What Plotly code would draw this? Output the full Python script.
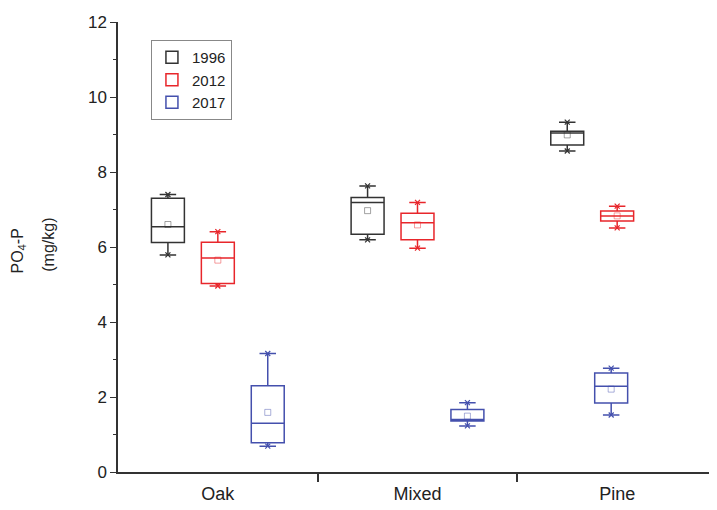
import plotly.graph_objects as go

sites = ["Oak", "Mixed", "Pine"]
years = ["1996", "2012", "2017"]

# box statistics per year, in site order (Oak, Mixed, Pine)
q1 = {"1996": [6.12, 6.34, 8.72], "2012": [5.03, 6.19, 6.69], "2017": [0.78, 1.36, 1.84]}
median = {"1996": [6.54, 7.19, 9.04], "2012": [5.71, 6.65, 6.83], "2017": [1.30, 1.40, 2.29]}
q3 = {"1996": [7.30, 7.32, 9.09], "2012": [6.13, 6.90, 6.96], "2017": [2.30, 1.67, 2.64]}
low = {"1996": [5.79, 6.19, 8.56], "2012": [4.96, 5.97, 6.51], "2017": [0.69, 1.23, 1.52]}
high = {"1996": [7.40, 7.63, 9.33], "2012": [6.41, 7.19, 7.09], "2017": [3.16, 1.85, 2.77]}
mean = {"1996": [6.60, 6.97, 8.99], "2012": [5.65, 6.59, 6.83], "2017": [1.59, 1.49, 2.21]}

colors = {"1996": "#333333", "2012": "#e8262b", "2017": "#4450ad"}
# horizontal shift of each box inside its site group
shift = {"1996": [-0.25, -0.25, -0.25], "2012": [0, 0, 0], "2017": [0.25, 0.25, -0.03]}

fig = go.Figure()

for yr in years:
    xs = [i + s for i, s in enumerate(shift[yr])]
    fig.add_trace(go.Box(
        x=xs, q1=q1[yr], median=median[yr], q3=q3[yr],
        lowerfence=low[yr], upperfence=high[yr],
        width=0.165, name=yr, boxpoints=False,
        line=dict(color=colors[yr], width=1.5),
        fillcolor="rgba(255,255,255,0)",
    ))
    # mean markers
    fig.add_trace(go.Scatter(
        x=xs, y=mean[yr], mode="markers", showlegend=False, hoverinfo="skip",
        marker=dict(symbol="square-open", size=6, color=colors[yr],
                    line=dict(width=1), opacity=0.45),
    ))
    # min / max markers
    fig.add_trace(go.Scatter(
        x=xs + xs, y=low[yr] + high[yr], mode="markers", showlegend=False,
        hoverinfo="skip",
        marker=dict(symbol="x-thin-open", size=5, color=colors[yr],
                    line=dict(width=1.2, color=colors[yr])),
    ))

# y axis title, two rotated lines
fig.add_annotation(text="PO<sub>4</sub>-P", textangle=-90, xref="paper", yref="paper",
                   x=0, y=0.49, xshift=-100, showarrow=False,
                   xanchor="center", yanchor="middle", font=dict(size=16))
fig.add_annotation(text="(mg/kg)", textangle=-90, xref="paper", yref="paper",
                   x=0, y=0.505, xshift=-69, showarrow=False,
                   xanchor="center", yanchor="middle", font=dict(size=16))

fig.update_layout(
    width=709, height=502,
    margin=dict(l=110, r=0, t=14, b=38),
    plot_bgcolor="white", paper_bgcolor="white",
    font=dict(family="Liberation Sans, Arial, sans-serif", size=17, color="#222"),
    showlegend=True,
    legend=dict(x=0.055, y=0.96, xanchor="left", yanchor="top",
                bordercolor="#888", borderwidth=1, bgcolor="white",
                font=dict(size=15), tracegroupgap=0),
)

fig.update_xaxes(
    range=[-0.5, 2.5], tickmode="array", tickvals=[0, 1, 2], ticktext=sites,
    ticks="", showline=True, linecolor="#333", linewidth=1.5, showgrid=False,
    zeroline=False, tickfont=dict(size=18), ticklabelstandoff=5,
    minor=dict(tickmode="array", tickvals=[0.5, 1.5], ticks="outside",
               ticklen=8, tickwidth=1.5, tickcolor="#333", showgrid=False),
)
fig.update_yaxes(
    range=[0, 12], tickvals=[0, 2, 4, 6, 8, 10, 12], ticks="outside",
    ticklen=6, tickwidth=1.2, tickcolor="#333",
    showline=True, linecolor="#333", linewidth=1.5, showgrid=False,
    zeroline=False,
    minor=dict(dtick=1, ticks="outside", ticklen=3, tickcolor="#333", showgrid=False),
)

fig.write_html("out.html")
